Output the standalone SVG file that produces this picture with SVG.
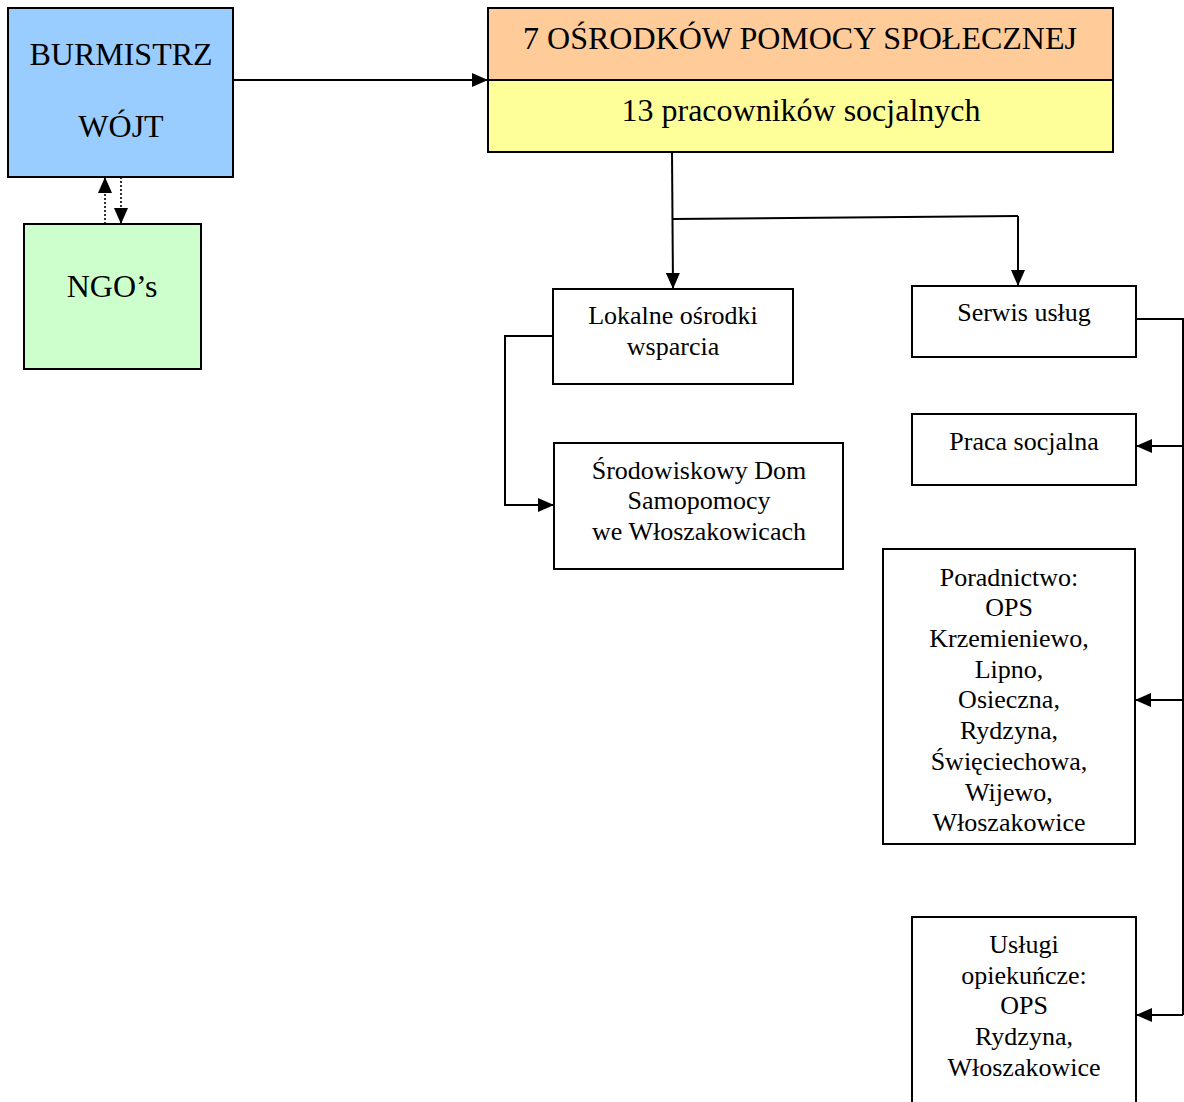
<svg xmlns="http://www.w3.org/2000/svg" width="1184" height="1102" viewBox="0 0 1184 1102">
<style>
.box{stroke:#000;stroke-width:2;fill:#fff}
.t{font-family:"Liberation Serif","Times New Roman",serif;fill:#000;text-anchor:middle}
.big{font-size:32px}
.sm{font-size:26px}
.c{fill:none;stroke:#000;stroke-width:2}
.d{fill:none;stroke:#000;stroke-width:1.6;stroke-dasharray:2,2}
</style>
<defs>
<marker id="ah" markerUnits="userSpaceOnUse" markerWidth="16" markerHeight="14" refX="15" refY="7" orient="auto">
<path d="M0,0 L16,7 L0,14 Z" fill="#000"/>
</marker>
</defs>
<rect width="1184" height="1102" fill="#fff"/>
<g id="connectors">
<path class="c" d="M233,80 L487,80" marker-end="url(#ah)"/>
<path class="d" d="M105,224 L105,178" marker-end="url(#ah)"/>
<path class="d" d="M121,177 L121,223" marker-end="url(#ah)"/>
<path class="c" d="M672,152 L673,288" marker-end="url(#ah)"/>
<path class="c" d="M672,219 L1018,216"/>
<path class="c" d="M1018,216 L1018,285" marker-end="url(#ah)"/>
<path class="c" d="M553,336 L505,336 L505,505 L553,505" marker-end="url(#ah)"/>
<path class="c" d="M1136,319 L1183,319 L1183,1015"/>
<path class="c" d="M1183,446 L1137,446" marker-end="url(#ah)"/>
<path class="c" d="M1183,700 L1136,700" marker-end="url(#ah)"/>
<path class="c" d="M1183,1015 L1137,1015" marker-end="url(#ah)"/>
</g>
<g id="burmistrz">
<rect class="box" x="8" y="8" width="225" height="169" style="fill:#99ccff"/>
<text class="t big" x="121" y="65">BURMISTRZ</text>
<text class="t big" x="121" y="137">WÓJT</text>
</g>
<g id="ngo">
<rect class="box" x="24" y="224" width="177" height="145" style="fill:#ccffcc"/>
<text class="t big" x="112" y="297">NGO’s</text>
</g>
<g id="osrodki">
<rect class="box" x="488" y="8" width="625" height="72" style="fill:#ffcc99"/>
<rect class="box" x="488" y="80" width="625" height="72" style="fill:#ffff99"/>
<text class="t big" x="800" y="49">7 OŚRODKÓW POMOCY SPOŁECZNEJ</text>
<text class="t big" x="801" y="121">13 pracowników socjalnych</text>
</g>
<g id="lokalne">
<rect class="box" x="553" y="289" width="240" height="95"/>
<text class="t sm" x="673" y="324">Lokalne ośrodki</text>
<text class="t sm" x="673" y="355">wsparcia</text>
</g>
<g id="sdom">
<rect class="box" x="554" y="443" width="289" height="126"/>
<text class="t sm" x="699" y="479">Środowiskowy Dom</text>
<text class="t sm" x="699" y="509">Samopomocy</text>
<text class="t sm" x="699" y="540">we Włoszakowicach</text>
</g>
<g id="serwis">
<rect class="box" x="912" y="286" width="224" height="71"/>
<text class="t sm" x="1024" y="321">Serwis usług</text>
</g>
<g id="praca">
<rect class="box" x="912" y="414" width="224" height="71"/>
<text class="t sm" x="1024" y="450">Praca socjalna</text>
</g>
<g id="poradnictwo">
<rect class="box" x="883" y="549" width="252" height="295"/>
<text class="t sm" x="1009" y="586">Poradnictwo:</text>
<text class="t sm" x="1009" y="616">OPS</text>
<text class="t sm" x="1009" y="647">Krzemieniewo,</text>
<text class="t sm" x="1009" y="678">Lipno,</text>
<text class="t sm" x="1009" y="708">Osieczna,</text>
<text class="t sm" x="1009" y="739">Rydzyna,</text>
<text class="t sm" x="1009" y="770">Święciechowa,</text>
<text class="t sm" x="1009" y="801">Wijewo,</text>
<text class="t sm" x="1009" y="831">Włoszakowice</text>
</g>
<g id="uslugi">
<rect class="box" x="912" y="917" width="224" height="200"/>
<text class="t sm" x="1024" y="953">Usługi</text>
<text class="t sm" x="1024" y="984">opiekuńcze:</text>
<text class="t sm" x="1024" y="1014">OPS</text>
<text class="t sm" x="1024" y="1045">Rydzyna,</text>
<text class="t sm" x="1024" y="1076">Włoszakowice</text>
</g>
</svg>
